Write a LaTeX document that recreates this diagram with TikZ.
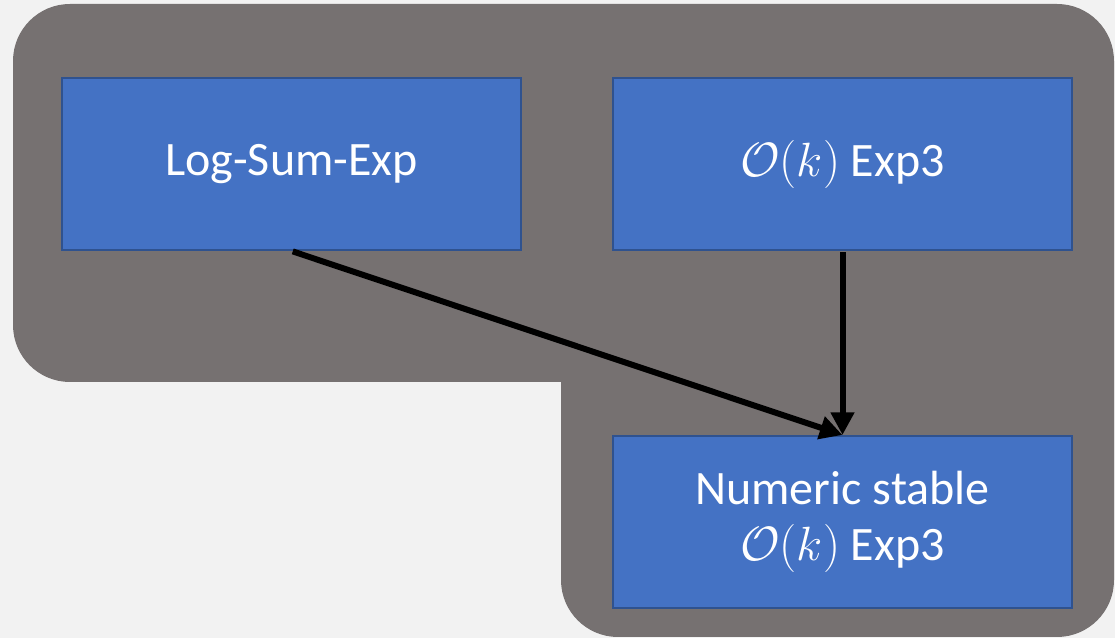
\documentclass[tikz,border=0pt]{standalone}
\usepackage{graphicx}
\usepackage{fontspec}
\setmainfont{Carlito}
\usetikzlibrary{arrows.meta}
\definecolor{bgc}{HTML}{F2F2F2}
\definecolor{darkc}{HTML}{767171}
\definecolor{bluec}{HTML}{4472C4}
\definecolor{borderc}{HTML}{2F528F}
\newcommand{\okmath}{\scalebox{1.45}{$\mathcal{O}(k)$}}
\tikzset{
  box/.style={draw=borderc, line width=1.5pt, fill=bluec, text=white,
    minimum width=344.25pt, minimum height=129pt, inner sep=0pt, align=center,
    font=\fontsize{36}{42}\selectfont},
  conn/.style={line width=4.5pt, -{Triangle[length=17pt,width=17pt]}, shorten <=1pt}
}
\begin{document}
\begin{tikzpicture}[x=0.75pt,y=0.75pt]
\useasboundingbox (0,0) rectangle (1115,638);
\fill[bgc] (0,0) rectangle (1115,638);
\fill[darkc] (70,634) -- (1057,634) arc[start angle=90,end angle=0,radius=42.75pt]
  -- (1114,58) arc[start angle=0,end angle=-90,radius=42.75pt]
  -- (618,1) arc[start angle=-90,end angle=-180,radius=42.75pt]
  -- (561,256) -- (70,256) arc[start angle=-90,end angle=-180,radius=42.75pt]
  -- (13,577) arc[start angle=180,end angle=90,radius=42.75pt] -- cycle;
\node[box] (lse) at (291.5,474) {Log-Sum-Exp};
\node[box] (ok) at (842.5,474) {\okmath{} Exp3};
\node[box] (ns) at (842.5,116) {Numeric stable\\\okmath{} Exp3};
\draw[conn] (lse.south) -- (ns.north);
\draw[conn] (ok.south) -- (ns.north);
\end{tikzpicture}
\end{document}
